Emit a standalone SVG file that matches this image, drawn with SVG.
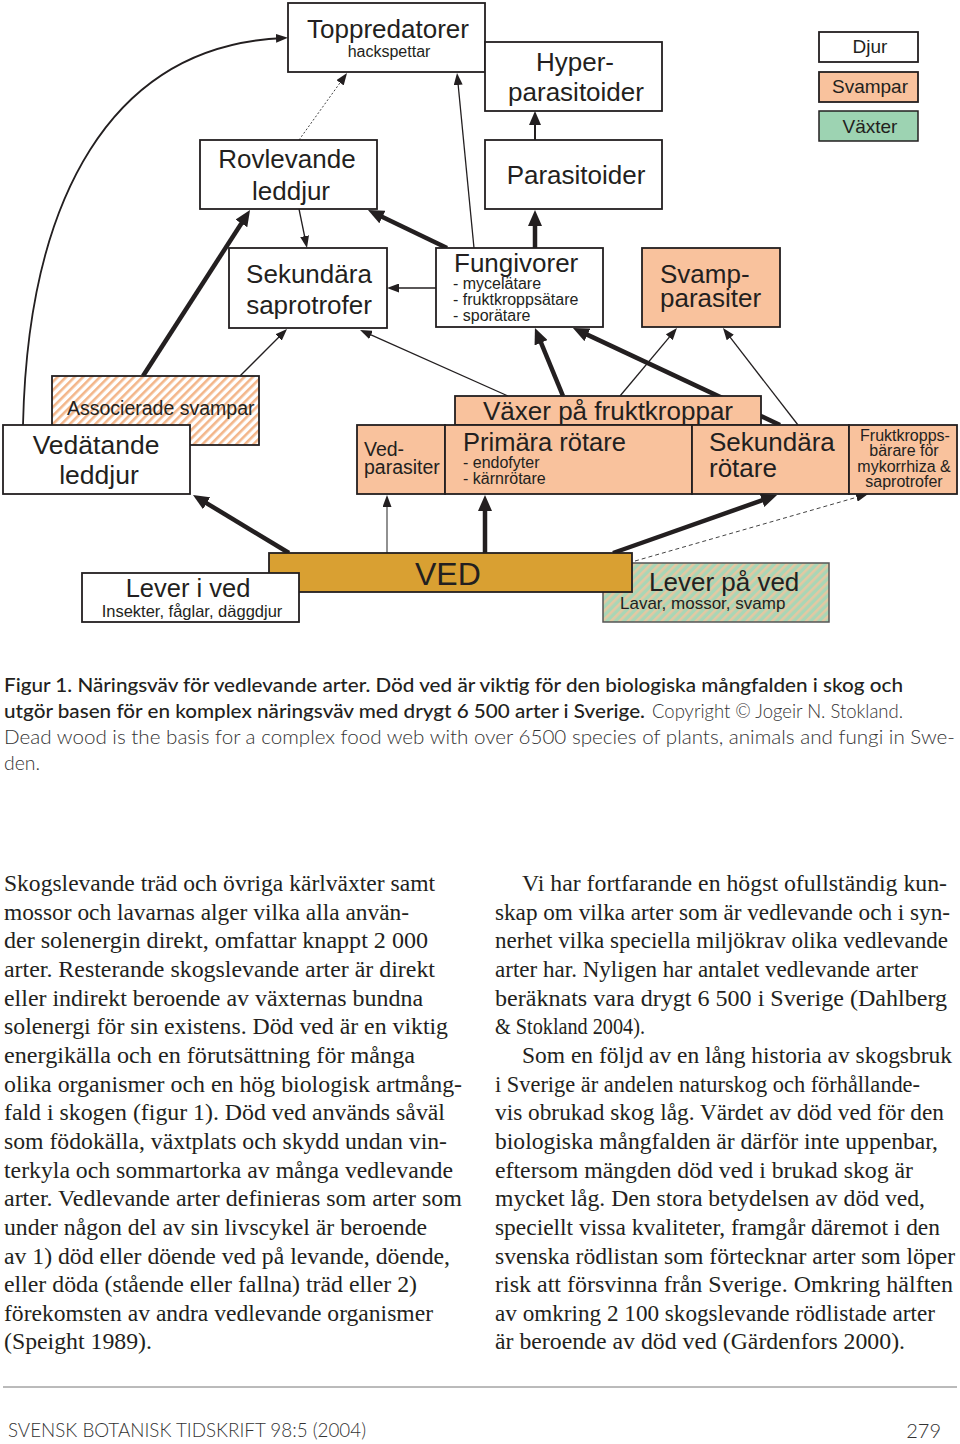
<svg xmlns="http://www.w3.org/2000/svg" width="960" height="1444" viewBox="0 0 960 1444">
<defs>
<style>
.bx{fill:#fff;stroke:#231f20;stroke-width:1.8}
.pe{fill:#f9c29d;stroke:#231f20;stroke-width:1.8}
.t{font-family:"Liberation Sans",Arial,sans-serif;fill:#231f20}
.body{font-family:"Liberation Serif","Times New Roman",serif;font-size:24px;fill:#231f20}
.cap{font-family:Lato,"Liberation Sans",sans-serif;font-size:20px;fill:#231f20}
.dk{font-weight:500}
.lt{font-weight:300;fill:#333}
.thick{fill:none;stroke:#231f20;stroke-width:4.5;marker-end:url(#ab)}
.thin{fill:none;stroke:#231f20;stroke-width:1.3;marker-end:url(#as)}
</style>
<marker id="ab" markerUnits="userSpaceOnUse" markerWidth="16" markerHeight="14" viewBox="0 0 16 14" refX="8" refY="7" orient="auto"><path d="M0,0 L16,7 L0,14 z" fill="#231f20"/></marker>
<marker id="am" markerUnits="userSpaceOnUse" markerWidth="14" markerHeight="12" viewBox="0 0 14 12" refX="8" refY="6" orient="auto"><path d="M0,0 L14,6 L0,12 z" fill="#231f20"/></marker>
<marker id="as" markerUnits="userSpaceOnUse" markerWidth="12" markerHeight="9" viewBox="0 0 12 9" refX="8" refY="4.5" orient="auto"><path d="M0,0 L12,4.5 L0,9 z" fill="#231f20"/></marker>
<pattern id="hatchP" width="6" height="6" patternUnits="userSpaceOnUse" patternTransform="rotate(45)"><rect width="6" height="6" fill="#fff"/><rect width="2.6" height="6" fill="#f3b68a"/></pattern>
<pattern id="hatchG" width="6" height="6" patternUnits="userSpaceOnUse" patternTransform="rotate(45)"><rect width="6" height="6" fill="#a9d6b6"/><rect width="2.6" height="6" fill="#e3c8a2"/></pattern>
</defs>
<rect width="960" height="1444" fill="#fff"/>

<g id="connectors">
<path d="M23,425 C28,200 110,45 284,38" fill="none" stroke="#231f20" stroke-width="1.8" marker-end="url(#as)"/>
<line x1="299" y1="140" x2="344.7" y2="76.3" stroke="#444" stroke-width="1" stroke-dasharray="2 2" marker-end="url(#as)"/>
<line class="thin" x1="474" y1="248" x2="457.4" y2="77"/>
<line class="thick" x1="447" y1="248" x2="375.2" y2="213.5"/>
<line class="thin" x1="299" y1="209" x2="306.2" y2="244"/>
<line class="thick" x1="143" y1="376" x2="245.7" y2="216.7"/>
<line class="thin" x1="436" y1="288" x2="391" y2="288"/>
<line class="thin" x1="240" y1="376" x2="284.2" y2="331.8"/>
<line class="thin" x1="508" y1="396" x2="363.7" y2="331.6" stroke-width="1.6"/>
<line class="thick" x1="563" y1="396" x2="538" y2="335.4"/>
<line class="thick" x1="780" y1="425" x2="580.2" y2="331.4"/>
<line class="thin" x1="620" y1="396" x2="674.4" y2="331.1"/>
<line class="thin" x1="798" y1="425" x2="725.4" y2="331.2"/>
<line x1="535" y1="140" x2="535" y2="117" stroke="#231f20" stroke-width="2" marker-end="url(#am)"/>
<line class="thick" x1="535" y1="248" x2="535" y2="218" stroke-width="3.5"/>
<line class="thick" x1="289" y1="553" x2="199.8" y2="499.1"/>
<line x1="387" y1="553" x2="387" y2="499" stroke="#555" stroke-width="1.3" marker-end="url(#as)"/>
<line class="thick" x1="485" y1="553" x2="485" y2="503" stroke-width="5"/>
<line class="thick" x1="613" y1="553" x2="769.5" y2="497.7" stroke-width="5"/>
<line x1="635" y1="561" x2="864.2" y2="495.1" stroke="#444" stroke-width="1" stroke-dasharray="4 3" marker-end="url(#as)"/>
</g>

<g id="toppredatorer">
<rect class="bx" x="288" y="3" width="197" height="69" stroke-width="1.5"/>
<text class="t" x="388" y="38" font-size="26" text-anchor="middle">Toppredatorer</text>
<text class="t" x="389" y="57" font-size="16" text-anchor="middle">hackspettar</text>
</g>
<g id="hyperparasitoider">
<rect class="bx" x="485" y="42" width="177" height="69" stroke-width="1.5"/>
<text class="t" x="575" y="71" font-size="26" text-anchor="middle">Hyper-</text>
<text class="t" x="576" y="101" font-size="26" text-anchor="middle">parasitoider</text>
</g>
<g id="parasitoider">
<rect class="bx" x="485" y="140" width="177" height="69" stroke-width="1.5"/>
<text class="t" x="576" y="184" font-size="26" text-anchor="middle">Parasitoider</text>
</g>
<g id="legend-djur">
<rect class="bx" x="819" y="32" width="99" height="30" stroke-width="1.5"/>
<text class="t" x="870" y="53" font-size="19" text-anchor="middle">Djur</text>
</g>
<g id="legend-svampar">
<rect class="pe" x="819" y="72" width="99" height="30" stroke-width="1.5"/>
<text class="t" x="870" y="93" font-size="19" text-anchor="middle">Svampar</text>
</g>
<g id="legend-vaxter">
<rect x="819" y="111" width="99" height="30" fill="#9dd3b2" stroke="#231f20" stroke-width="1.5"/>
<text class="t" x="870" y="133" font-size="19" text-anchor="middle">Växter</text>
</g>
<g id="rovlevande">
<rect class="bx" x="200" y="140" width="177" height="69" stroke-width="1.5"/>
<text class="t" x="287" y="168" font-size="26" text-anchor="middle">Rovlevande</text>
<text class="t" x="291" y="200" font-size="26" text-anchor="middle">leddjur</text>
</g>
<g id="sekundara-saprotrofer">
<rect class="bx" x="229" y="248" width="158" height="80" stroke-width="3"/>
<text class="t" x="309" y="283" font-size="26" text-anchor="middle">Sekundära</text>
<text class="t" x="309" y="314" font-size="26" text-anchor="middle">saprotrofer</text>
</g>
<g id="fungivorer">
<rect class="bx" x="436" y="248" width="167" height="79" stroke-width="1.5"/>
<text class="t" x="454" y="272" font-size="26">Fungivorer</text>
<text class="t" x="453" y="289" font-size="16">- mycelätare</text>
<text class="t" x="453" y="305" font-size="16">- fruktkroppsätare</text>
<text class="t" x="453" y="321" font-size="16">- sporätare</text>
</g>
<g id="svampparasiter">
<rect class="pe" x="642" y="248" width="138" height="79"/>
<text class="t" x="660" y="283" font-size="26">Svamp-</text>
<text class="t" x="660" y="307" font-size="26">parasiter</text>
</g>
<g id="associerade-svampar">
<rect x="52" y="376" width="207" height="69" fill="url(#hatchP)" stroke="#231f20" stroke-width="1.8"/>
<text class="t" x="67" y="415" font-size="19.5">Associerade svampar</text>
</g>
<g id="vedatande-leddjur">
<rect class="bx" x="3" y="425" width="187" height="69"/>
<text class="t" x="96" y="454" font-size="26.5" text-anchor="middle">Vedätande</text>
<text class="t" x="99" y="484" font-size="26.5" text-anchor="middle">leddjur</text>
</g>
<g id="vedparasiter">
<rect class="pe" x="357" y="425" width="88" height="69"/>
<text class="t" x="364" y="456" font-size="19.5">Ved-</text>
<text class="t" x="364" y="474" font-size="19.5">parasiter</text>
</g>
<g id="vaxer-pa-fruktkroppar">
<rect class="pe" x="455" y="396" width="306" height="29"/>
<text class="t" x="483" y="420" font-size="26">Växer på fruktkroppar</text>
</g>
<g id="primara-rotare">
<rect class="pe" x="445" y="425" width="247" height="69" stroke-width="2.6"/>
<text class="t" x="463" y="451" font-size="25.5">Primära rötare</text>
<text class="t" x="463" y="468" font-size="16">- endofyter</text>
<text class="t" x="463" y="484" font-size="16">- kärnrötare</text>
</g>
<g id="sekundara-rotare">
<rect class="pe" x="692" y="425" width="157" height="69" stroke-width="2.6"/>
<text class="t" x="709" y="451" font-size="26">Sekundära</text>
<text class="t" x="709" y="477" font-size="26">rötare</text>
</g>
<g id="fruktkroppsbarare">
<rect class="pe" x="849" y="425" width="108" height="69" stroke-width="1.5"/>
<text class="t" x="905" y="441" font-size="16" text-anchor="middle">Fruktkropps-</text>
<text class="t" x="904" y="456" font-size="16" text-anchor="middle">bärare för</text>
<text class="t" x="904" y="472" font-size="16" text-anchor="middle">mykorrhiza &amp;</text>
<text class="t" x="904" y="487" font-size="16" text-anchor="middle">saprotrofer</text>
</g>
<g id="lever-pa-ved">
<rect x="603" y="563" width="226" height="59" fill="url(#hatchG)" stroke="#555" stroke-width="1.5"/>
<text class="t" x="649" y="591" font-size="26">Lever på ved</text>
<text class="t" x="620" y="609" font-size="17">Lavar, mossor, svamp</text>
</g>
<g id="ved">
<rect x="269" y="553" width="363" height="39" fill="#d9a032" stroke="#231f20" stroke-width="1.8"/>
<text class="t" x="415" y="585" font-size="32">VED</text>
</g>
<g id="lever-i-ved">
<rect class="bx" x="82" y="573" width="217" height="49" stroke-width="1.5"/>
<text class="t" x="188" y="597" font-size="25.5" text-anchor="middle">Lever i ved</text>
<text class="t" x="192" y="617" font-size="16.5" text-anchor="middle">Insekter, fåglar, däggdjur</text>
</g>

<g id="caption" class="cap">
<text class="dk" x="4" y="692" textLength="899" lengthAdjust="spacingAndGlyphs">Figur 1. Näringsväv för vedlevande arter. Död ved är viktig för den biologiska mångfalden i skog och</text>
<text class="dk" x="4" y="718" textLength="641" lengthAdjust="spacingAndGlyphs">utgör basen för en komplex näringsväv med drygt 6 500 arter i Sverige.</text>
<text class="lt" x="652" y="718" textLength="251" lengthAdjust="spacingAndGlyphs">Copyright © Jogeir N. Stokland.</text>
<text class="lt" x="4" y="744" textLength="951" lengthAdjust="spacingAndGlyphs">Dead wood is the basis for a complex food web with over 6500 species of plants, animals and fungi in Swe-</text>
<text class="lt" x="4" y="770" textLength="36" lengthAdjust="spacingAndGlyphs">den.</text>
</g>

<g id="column-left" class="body">
<text x="4" y="891" textLength="431" lengthAdjust="spacingAndGlyphs">Skogslevande träd och övriga kärlväxter samt</text>
<text x="4" y="919.7" textLength="405" lengthAdjust="spacingAndGlyphs">mossor och lavarnas alger vilka alla använ-</text>
<text x="4" y="948.3" textLength="424" lengthAdjust="spacingAndGlyphs">der solenergin direkt, omfattar knappt 2 000</text>
<text x="4" y="977" textLength="431" lengthAdjust="spacingAndGlyphs">arter. Resterande skogslevande arter är direkt</text>
<text x="4" y="1005.6" textLength="419" lengthAdjust="spacingAndGlyphs">eller indirekt beroende av växternas bundna</text>
<text x="4" y="1034.3" textLength="444" lengthAdjust="spacingAndGlyphs">solenergi för sin existens. Död ved är en viktig</text>
<text x="4" y="1062.9" textLength="411" lengthAdjust="spacingAndGlyphs">energikälla och en förutsättning för många</text>
<text x="4" y="1091.6" textLength="458" lengthAdjust="spacingAndGlyphs">olika organismer och en hög biologisk artmång-</text>
<text x="4" y="1120.2" textLength="441" lengthAdjust="spacingAndGlyphs">fald i skogen (figur 1). Död ved används såväl</text>
<text x="4" y="1148.9" textLength="443" lengthAdjust="spacingAndGlyphs">som födokälla, växtplats och skydd undan vin-</text>
<text x="4" y="1177.5" textLength="449" lengthAdjust="spacingAndGlyphs">terkyla och sommartorka av många vedlevande</text>
<text x="4" y="1206.2" textLength="458" lengthAdjust="spacingAndGlyphs">arter. Vedlevande arter definieras som arter som</text>
<text x="4" y="1234.8" textLength="423" lengthAdjust="spacingAndGlyphs">under någon del av sin livscykel är beroende</text>
<text x="4" y="1263.5" textLength="446" lengthAdjust="spacingAndGlyphs">av 1) död eller döende ved på levande, döende,</text>
<text x="4" y="1292.1" textLength="413" lengthAdjust="spacingAndGlyphs">eller döda (stående eller fallna) träd eller 2)</text>
<text x="4" y="1320.8" textLength="429" lengthAdjust="spacingAndGlyphs">förekomsten av andra vedlevande organismer</text>
<text x="4" y="1349.4" textLength="148" lengthAdjust="spacingAndGlyphs">(Speight 1989).</text>
</g>

<g id="column-right" class="body">
<text x="522" y="891" textLength="425" lengthAdjust="spacingAndGlyphs">Vi har fortfarande en högst ofullständig kun-</text>
<text x="495" y="919.7" textLength="455" lengthAdjust="spacingAndGlyphs">skap om vilka arter som är vedlevande och i syn-</text>
<text x="495" y="948.3" textLength="453" lengthAdjust="spacingAndGlyphs">nerhet vilka speciella miljökrav olika vedlevande</text>
<text x="495" y="977" textLength="423" lengthAdjust="spacingAndGlyphs">arter har. Nyligen har antalet vedlevande arter</text>
<text x="495" y="1005.6" textLength="452" lengthAdjust="spacingAndGlyphs">beräknats vara drygt 6 500 i Sverige (Dahlberg</text>
<text x="495" y="1034.3" textLength="150" lengthAdjust="spacingAndGlyphs">&amp; Stokland 2004).</text>
<text x="522" y="1062.9" textLength="430" lengthAdjust="spacingAndGlyphs">Som en följd av en lång historia av skogsbruk</text>
<text x="495" y="1091.6" textLength="425" lengthAdjust="spacingAndGlyphs">i Sverige är andelen naturskog och förhållande-</text>
<text x="495" y="1120.2" textLength="449" lengthAdjust="spacingAndGlyphs">vis obrukad skog låg. Värdet av död ved för den</text>
<text x="495" y="1148.9" textLength="443" lengthAdjust="spacingAndGlyphs">biologiska mångfalden är därför inte uppenbar,</text>
<text x="495" y="1177.5" textLength="418" lengthAdjust="spacingAndGlyphs">eftersom mängden död ved i brukad skog är</text>
<text x="495" y="1206.2" textLength="430" lengthAdjust="spacingAndGlyphs">mycket låg. Den stora betydelsen av död ved,</text>
<text x="495" y="1234.8" textLength="445" lengthAdjust="spacingAndGlyphs">speciellt vissa kvaliteter, framgår däremot i den</text>
<text x="495" y="1263.5" textLength="460" lengthAdjust="spacingAndGlyphs">svenska rödlistan som förtecknar arter som löper</text>
<text x="495" y="1292.1" textLength="458" lengthAdjust="spacingAndGlyphs">risk att försvinna från Sverige. Omkring hälften</text>
<text x="495" y="1320.8" textLength="440" lengthAdjust="spacingAndGlyphs">av omkring 2 100 skogslevande rödlistade arter</text>
<text x="495" y="1349.4" textLength="410" lengthAdjust="spacingAndGlyphs">är beroende av död ved (Gärdenfors 2000).</text>
</g>

<g id="footer">
<line x1="3" y1="1387" x2="957" y2="1387" stroke="#777" stroke-width="1"/>
<text class="cap lt" x="8" y="1437" font-size="18" textLength="358" lengthAdjust="spacingAndGlyphs">SVENSK BOTANISK TIDSKRIFT 98:5 (2004)</text>
<text class="cap lt" x="941" y="1438" font-size="23" text-anchor="end">279</text>
</g>
</svg>
